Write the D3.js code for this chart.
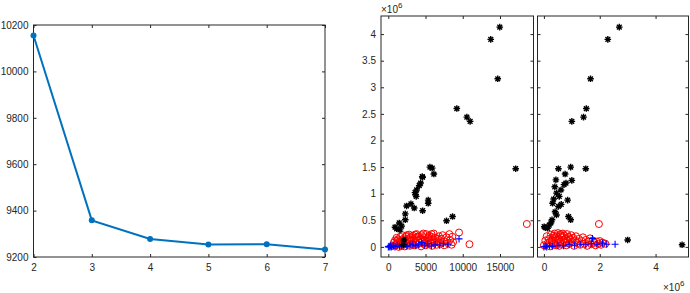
<!DOCTYPE html>
<html lang="en">
<head>
<meta charset="utf-8">
<script src="https://d3js.org/d3.v7.min.js"></script>
<style>
  body { margin: 0; background: #fff; }
  svg text { font-family: "Liberation Sans", Arial, Helvetica, sans-serif; fill: #262626; }
</style>
</head>
<body>
<script>
// left panel: line with dots
var lineX = [2, 3, 4, 5, 6, 7];
var lineY = [10155, 9358, 9278, 9254, 9255, 9232];
var leftXTicks = [2, 3, 4, 5, 6, 7];
var leftYTicks = [9200, 9400, 9600, 9800, 10000, 10200];

// middle panel scatter (x, y in millions)
var blackMid = [[14970,4.13],[13760,3.90],[14700,3.16],[9200,2.60],[10550,2.44],[10990,2.36],[17110,1.47],
  [5590,1.50],[5900,1.48],[6120,1.37],[4610,1.31],[4560,1.32],[4340,1.20],[4150,1.15],[3800,1.07],
  [3580,1.02],[3670,0.98],[3750,0.95],[5360,0.88],[5360,0.82],[3040,0.81],[2460,0.77],[3480,0.73],
  [4610,0.68],[2280,0.62],[2280,0.51],[1470,0.45],[1800,0.39],[900,0.37],[1130,0.34],[1570,0.32],
  [7820,0.49],[8630,0.57],[2100,0.13],[2020,0.04]];
var redMid = [[600,0.02],[750,0.08],[900,0.12],[1000,0.03],[1100,0.17],[1200,0.06],[1300,0.14],[1400,0.00],
  [1500,0.10],[1600,0.19],[1700,0.04],[1800,0.13],[1900,0.22],[2000,0.07],[2100,0.16],[2200,0.01],
  [2300,0.11],[2400,0.20],[2500,0.05],[2600,0.15],[2700,0.09],[2800,0.23],[2900,0.02],[3000,0.18],
  [3100,0.12],[3200,0.06],[3300,0.21],[3400,0.14],[3500,0.03],[3600,0.09],[3700,0.17],[3800,0.24],
  [3900,0.05],[4000,0.12],[4100,0.20],[4200,0.08],[4300,0.15],[4400,0.01],[4500,0.22],[4600,0.11],
  [4700,0.06],[4800,0.18],[4900,0.13],[5000,0.03],[5100,0.24],[5200,0.09],[5300,0.16],[5400,0.05],
  [5500,0.21],[5600,0.12],[5700,0.07],[5800,0.19],[5900,0.02],[6000,0.14],[6100,0.25],[6200,0.08],
  [6300,0.17],[6500,0.04],[6600,0.11],[6800,0.20],[7000,0.06],[7100,0.15],[7300,0.22],[7500,0.03],
  [7600,0.10],[7800,0.18],[8000,0.07],[8200,0.24],[8300,0.13],[8500,0.04],[8600,0.19],[8700,0.09],
  [1500,0.05],[2200,0.09],[2800,0.13],[3300,0.04],[3900,0.19],[4400,0.14],[4900,0.07],[5400,0.18],
  [6000,0.10],[6700,0.15],[1200,0.11],[1800,0.02],[2500,0.22],[3600,0.23],[4700,0.25],[5800,0.24],
  [9500,0.27],[10900,0.05],[18600,0.43]];
var blueMid = [[0,0.00],[100,0.01],[200,0.00],[300,0.02],[400,0.00],[500,0.01],[700,0.02],[900,0.00],
  [1200,0.03],[1500,0.01],[1800,0.02],[2100,0.04],[2500,0.01],[2900,0.03],[3300,0.05],[3700,0.02],
  [4100,0.04],[4500,0.08],[4900,0.03],[5300,0.06],[5800,0.02],[6300,0.05],[6900,0.03],[7400,0.06],
  [8000,0.04],[9500,0.15]];
var midXTicks = [0, 5000, 10000, 15000];
var sharedYTicks = [0, 0.5, 1, 1.5, 2, 2.5, 3, 3.5, 4];

// right panel scatter (x and y in millions)
var blackRight = [[2.70,4.13],[2.29,3.90],[1.67,3.16],[1.52,2.60],[1.42,2.44],[1.00,2.36],
  [0.52,1.47],[0.96,1.50],[1.50,1.47],[0.76,1.37],[1.00,1.25],[0.79,1.20],[0.43,1.26],[0.61,1.07],
  [0.72,1.17],[0.39,1.13],[0.45,1.01],[0.31,0.82],[0.85,0.88],[0.52,0.76],[0.40,0.66],[0.45,0.60],
  [0.88,0.57],[0.96,0.51],[0.29,0.51],[0.19,0.41],[0.01,0.38],[0.13,0.35],[0.55,0.95],[0.35,0.90],
  [0.62,0.80],[3.00,0.13],[4.95,0.04],[0.25,0.45],[0.05,0.36]];
var redRight = [[0.00,0.03],[0.05,0.12],[0.10,0.20],[0.12,0.06],[0.18,0.15],[0.22,0.01],[0.25,0.23],
  [0.28,0.09],[0.32,0.17],[0.35,0.04],[0.38,0.25],[0.42,0.12],[0.45,0.20],[0.48,0.07],[0.50,0.26],
  [0.52,0.15],[0.55,0.02],[0.58,0.22],[0.60,0.10],[0.63,0.18],[0.66,0.05],[0.68,0.25],[0.70,0.13],
  [0.73,0.21],[0.76,0.08],[0.78,0.16],[0.80,0.03],[0.83,0.24],[0.86,0.11],[0.88,0.19],[0.92,0.06],
  [0.95,0.14],[0.98,0.22],[1.02,0.09],[1.05,0.17],[1.08,0.02],[1.12,0.12],[1.15,0.20],[1.20,0.07],
  [1.25,0.15],[1.30,0.04],[1.35,0.11],[1.40,0.18],[1.45,0.06],[1.50,0.13],[1.55,0.02],[1.60,0.10],
  [1.65,0.16],[1.70,0.05],[1.75,0.12],[1.80,0.08],[1.85,0.03],[1.90,0.10],[1.95,0.06],[2.00,0.11],
  [2.05,0.04],[2.10,0.08],[2.20,0.06],[0.30,0.12],[0.40,0.18],[0.55,0.14],[0.65,0.20],[0.45,0.03],
  [0.75,0.11],[0.90,0.16],[0.60,0.24],[0.35,0.21],[0.20,0.09],[1.97,0.43]];
var blueRight = [[0.00,0.00],[0.05,0.01],[0.10,0.00],[0.20,0.02],[0.30,0.01],[0.50,0.03],[0.70,0.02],
  [0.90,0.04],[1.10,0.03],[1.30,0.05],[1.50,0.04],[1.70,0.06],[1.74,0.16],[1.90,0.05],[2.10,0.07],
  [2.25,0.05],[2.55,0.05]];
var rightXTicks = [0, 2, 4];

var width = 690, height = 293;
var svg = d3.select('body').append('svg')
  .attr('width', width).attr('height', height);

var axisColor = '#262626';
var fontSize = 10;

function boxAxes(g, x, y, xt, yt, xfmt, yfmt, showY) {
  var w = x.range()[1] - x.range()[0];
  var h = y.range()[0] - y.range()[1];
  var bottom = g.append('g').attr('transform', 'translate(0,' + y.range()[0] + ')')
    .call(d3.axisBottom(x).tickValues(xt).tickSize(-3).tickPadding(7).tickFormat(xfmt));
  var top = g.append('g').attr('transform', 'translate(0,' + y.range()[1] + ')')
    .call(d3.axisTop(x).tickValues(xt).tickSize(-3).tickFormat(''));
  var left = g.append('g').attr('transform', 'translate(' + x.range()[0] + ',0)')
    .call(d3.axisLeft(y).tickValues(yt).tickSize(-3).tickPadding(5).tickFormat(showY ? yfmt : ''));
  var right = g.append('g').attr('transform', 'translate(' + x.range()[1] + ',0)')
    .call(d3.axisRight(y).tickValues(yt).tickSize(-3).tickFormat(''));
  [bottom, top, left, right].forEach(function(a) {
    a.select('.domain').remove();
    a.selectAll('line').attr('stroke', axisColor);
    a.selectAll('text').style('font-size', fontSize + 'px').attr('fill', axisColor);
  });
  g.append('rect')
    .attr('x', x.range()[0]).attr('y', y.range()[1])
    .attr('width', w).attr('height', h)
    .attr('fill', 'none').attr('stroke', axisColor).attr('stroke-width', 1);
}

// ---- left panel
var lx = d3.scaleLinear().domain([2, 7]).range([33.5, 325]);
var ly = d3.scaleLinear().domain([9200, 10200]).range([257, 25]);
var gl = svg.append('g');
boxAxes(gl, lx, ly, leftXTicks, leftYTicks, d3.format('d'), d3.format('d'), true);

var line = d3.line().x(function(d, i) { return lx(lineX[i]); }).y(function(d) { return ly(d); });
gl.append('path').datum(lineY)
  .attr('d', line).attr('fill', 'none')
  .attr('stroke', '#0072BD').attr('stroke-width', 2);
gl.selectAll('circle.dot').data(lineY).join('circle')
  .attr('class', 'dot')
  .attr('cx', function(d, i) { return lx(lineX[i]); })
  .attr('cy', function(d) { return ly(d); })
  .attr('r', 3).attr('fill', '#0072BD');

// marker helpers
function plusPath(s) {
  return 'M' + (-s) + ',0H' + s + 'M0,' + (-s) + 'V' + s;
}
function starPath(s) {
  var d = s * 0.72;
  return plusPath(s) + 'M' + (-d) + ',' + (-d) + 'L' + d + ',' + d + 'M' + (-d) + ',' + d + 'L' + d + ',' + (-d);
}

function scatter(g, x, y, red, blue, black) {
  g.selectAll('circle.red').data(red).join('circle')
    .attr('class', 'red')
    .attr('cx', function(d) { return x(d[0]); })
    .attr('cy', function(d) { return y(d[1]); })
    .attr('r', 3.5).attr('fill', 'none')
    .attr('stroke', '#ff0000').attr('stroke-width', 1);
  g.selectAll('path.blue').data(blue).join('path')
    .attr('class', 'blue')
    .attr('d', plusPath(3.5))
    .attr('transform', function(d) { return 'translate(' + x(d[0]) + ',' + y(d[1]) + ')'; })
    .attr('stroke', '#0000ff').attr('stroke-width', 1.1).attr('fill', 'none');
  g.selectAll('path.black').data(black).join('path')
    .attr('class', 'black')
    .attr('d', starPath(3.3))
    .attr('transform', function(d) { return 'translate(' + x(d[0]) + ',' + y(d[1]) + ')'; })
    .attr('stroke', '#000').attr('stroke-width', 1.4).attr('fill', 'none');
}

// ---- middle panel
var mx = d3.scaleLinear().domain([-980, 19500]).range([381, 533.5]);
var my = d3.scaleLinear().domain([-0.19, 4.34]).range([257, 16]);
var gm = svg.append('g');
scatter(gm, mx, my, redMid, blueMid, blackMid);
boxAxes(gm, mx, my, midXTicks, sharedYTicks, d3.format('d'), function(d) { return String(d); }, true);

// ---- right panel
var rx = d3.scaleLinear().domain([-0.23, 5.18]).range([537.5, 688.5]);
var ry = my.copy();
var gr = svg.append('g');
scatter(gr, rx, ry, redRight, blueRight, blackRight);
boxAxes(gr, rx, ry, rightXTicks, sharedYTicks, d3.format('d'), '', false);

// exponent labels
function expLabel(xp, yp) {
  var t = svg.append('text').attr('x', xp).attr('y', yp).style('font-size', fontSize + 'px').attr('fill', axisColor);
  t.append('tspan').text('\u00d710');
  t.append('tspan').attr('dy', -5).style('font-size', '8px').text('6');
}
expLabel(381, 13);
expLabel(663, 291);
</script>
</body>
</html>
